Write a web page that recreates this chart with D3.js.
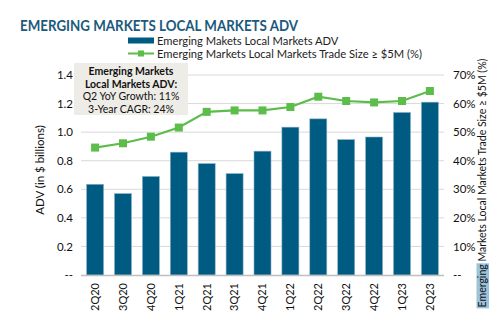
<!DOCTYPE html>
<html>
<head>
<meta charset="utf-8">
<script src="https://cdn.jsdelivr.net/npm/d3@7"></script>
<style>
body { margin: 0; background: #fff; }
text { font-family: Lato, "Open Sans", sans-serif; }
</style>
</head>
<body>
<svg id="chart" width="499" height="322"></svg>
<script>
// quarters on the x axis
var quarters = ["2Q20", "3Q20", "4Q20", "1Q21", "2Q21", "3Q21", "4Q21",
	"1Q22", "2Q22", "3Q22", "4Q22", "1Q23", "2Q23"];
// ADV in $ billions (bars)
var advValues = [0.635, 0.57, 0.69, 0.86, 0.78, 0.71, 0.867,
	1.035, 1.093, 0.948, 0.966, 1.138, 1.21];
// share of trades >= $5M, % (line)
var bigTradeShare = [44.6, 46.1, 48.4, 51.6, 57.1, 57.6, 57.6,
	58.8, 62.4, 60.9, 60.4, 60.9, 64.4];
var leftTicks = [0, 0.2, 0.4, 0.6, 0.8, 1.0, 1.2, 1.4];
var rightTicks = [0, 10, 20, 30, 40, 50, 60, 70];
var boxLines = ["Emerging Markets", "Local Markets ADV:", "Q2 YoY Growth: 11%", "3-Year CAGR: 24%"];

var barColor = "#005b82", lineColor = "#5cbd4a";
var svg = d3.select("#chart");
var plotL = 81, plotR = 444, plotT = 75, plotB = 275;

var x = d3.scaleBand().domain(quarters).range([plotL, plotR]).paddingInner(0.39).paddingOuter(0.2);
var yL = d3.scaleLinear().domain([0, 1.4]).range([plotB, plotT]);
var yR = d3.scaleLinear().domain([0, 70]).range([plotB, plotT]);

// title
svg.append("text").attr("x", 20).attr("y", 31)
	.attr("font-size", 16).attr("font-weight", "bold").attr("fill", "#1b5a7c")
	.attr("textLength", 278).attr("lengthAdjust", "spacingAndGlyphs")
	.text("EMERGING MARKETS LOCAL MARKETS ADV");

// legend
svg.append("rect").attr("x", 128).attr("y", 37.5).attr("width", 26).attr("height", 6).attr("fill", barColor);
svg.append("text").attr("x", 157).attr("y", 44.5).attr("font-size", 11.2).attr("fill", "#222")
	.text("Emerging Makets Local Markets ADV");
svg.append("line").attr("x1", 128).attr("x2", 154).attr("y1", 53.5).attr("y2", 53.5)
	.attr("stroke", lineColor).attr("stroke-width", 2);
svg.append("rect").attr("x", 138).attr("y", 50.5).attr("width", 6).attr("height", 6).attr("fill", lineColor);
svg.append("text").attr("x", 157).attr("y", 57.5).attr("font-size", 11.2).attr("fill", "#222")
	.text("Emerging Markets Local Markets Trade Size \u2265 $5M (%)");

// gridlines
svg.selectAll(".grid").data(leftTicks.slice(1)).enter().append("line")
	.attr("x1", plotL).attr("x2", plotR)
	.attr("y1", function(d) { return yL(d); }).attr("y2", function(d) { return yL(d); })
	.attr("stroke", "#d9d9d9").attr("stroke-width", 1);

// annotation box
svg.append("rect").attr("x", 74).attr("y", 63).attr("width", 114).attr("height", 52).attr("fill", "#eeece7");
svg.selectAll(".boxText").data(boxLines).enter().append("text")
	.attr("x", 131).attr("y", function(d, i) { return 75 + i * 12.7; })
	.attr("text-anchor", "middle").attr("font-size", 10.5)
	.attr("font-weight", function(d, i) { return i < 2 ? "bold" : "normal"; })
	.attr("fill", "#111").text(function(d) { return d; });

// bars
svg.selectAll(".bar").data(advValues).enter().append("rect")
	.attr("x", function(d, i) { return x(quarters[i]); })
	.attr("y", function(d) { return yL(d); })
	.attr("width", x.bandwidth())
	.attr("height", function(d) { return plotB - yL(d); })
	.attr("fill", barColor).attr("stroke", "#8fb3c6").attr("stroke-width", 0.6);

// baseline
svg.append("line").attr("x1", plotL).attr("x2", plotR).attr("y1", plotB + 0.5).attr("y2", plotB + 0.5)
	.attr("stroke", "#bfbfbf").attr("stroke-width", 1.5);

// line series
var line = d3.line()
	.x(function(d, i) { return x(quarters[i]) + x.bandwidth() / 2; })
	.y(function(d) { return yR(d); });
svg.append("path").datum(bigTradeShare).attr("d", line)
	.attr("fill", "none").attr("stroke", lineColor).attr("stroke-width", 2.2);
svg.selectAll(".pt").data(bigTradeShare).enter().append("rect")
	.attr("x", function(d, i) { return x(quarters[i]) + x.bandwidth() / 2 - 4; })
	.attr("y", function(d) { return yR(d) - 4; })
	.attr("width", 8).attr("height", 8).attr("fill", lineColor);

// left axis
var axL = svg.append("g").attr("transform", "translate(" + plotL + ",0)")
	.call(d3.axisLeft(yL).tickValues(leftTicks).tickSize(0).tickPadding(8)
		.tickFormat(function(d) { return d === 0 ? "--" : d3.format(".1f")(d); }));
axL.select(".domain").remove();
axL.selectAll("text").attr("font-size", 11.5).attr("fill", "#111").style("font-family", "Lato, sans-serif");

// right axis
var axR = svg.append("g").attr("transform", "translate(" + (plotR + 9) + ",0)")
	.call(d3.axisRight(yR).tickValues(rightTicks).tickSize(0).tickPadding(0)
		.tickFormat(function(d) { return d === 0 ? "--" : d + "%"; }));
axR.select(".domain").remove();
axR.selectAll("text").attr("font-size", 11.5).attr("fill", "#111").style("font-family", "Lato, sans-serif");

// x axis labels
var axX = svg.append("g").attr("transform", "translate(0," + plotB + ")")
	.call(d3.axisBottom(x).tickSize(0).tickPadding(0));
axX.select(".domain").remove();
axX.selectAll("text").attr("font-size", 11).attr("fill", "#111").style("font-family", "Lato, sans-serif")
	.attr("text-anchor", "end").attr("transform", "rotate(-90)")
	.attr("x", -8).attr("y", 0).attr("dy", "0.35em");

// axis titles
svg.append("text").attr("transform", "translate(44,170) rotate(-90)")
	.attr("text-anchor", "middle").attr("font-size", 11.5).attr("fill", "#111")
	.text("ADV (in $ billions)");
var rg = svg.append("g").attr("transform", "translate(486,183) rotate(-90)");
var hl = rg.append("rect").attr("fill", "#9cc3dc");
var rt = rg.append("text").attr("text-anchor", "middle").attr("font-size", 10.5).attr("fill", "#111");
var em = rt.append("tspan").text("Emerging");
rt.append("tspan").text(" Markets Local Markets Trade Size \u2265 $5M (%)");
var total = rt.node().getComputedTextLength();
var emLen = em.node().getComputedTextLength();
hl.attr("x", -total / 2 - 1).attr("y", -9.5).attr("width", emLen + 2).attr("height", 12.5);
</script>
</body>
</html>
